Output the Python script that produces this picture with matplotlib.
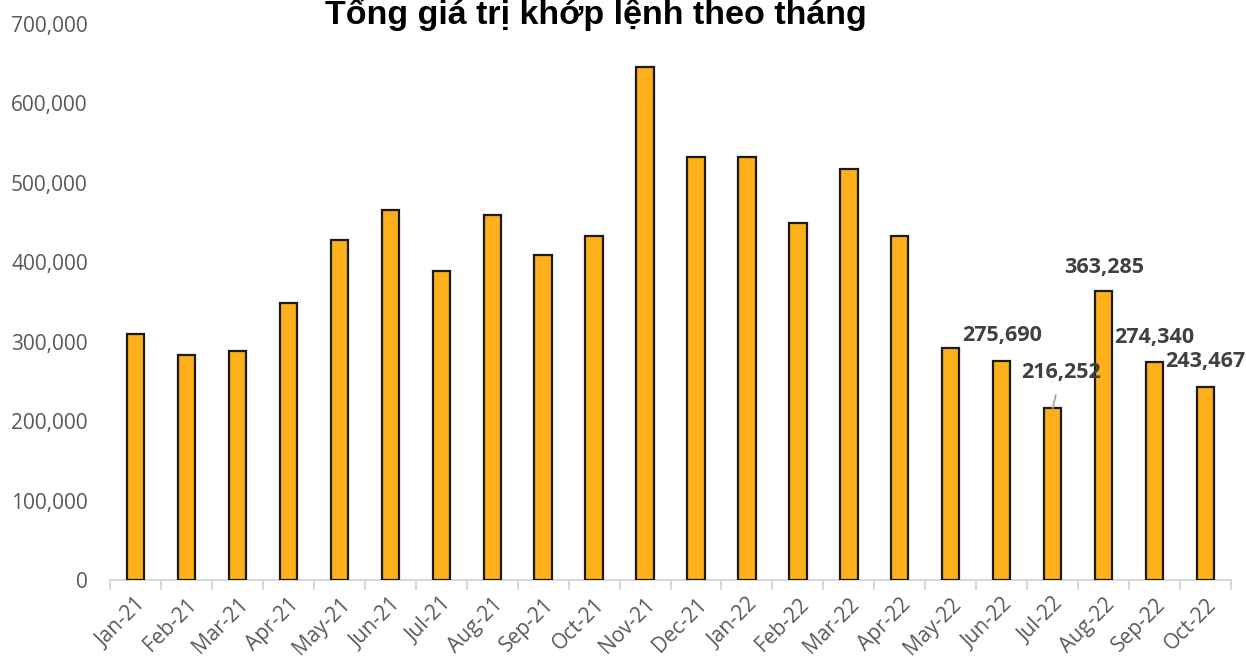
import matplotlib
matplotlib.use("Agg")
import matplotlib.pyplot as plt
from matplotlib.ticker import FuncFormatter

months = ["Jan-21", "Feb-21", "Mar-21", "Apr-21", "May-21", "Jun-21", "Jul-21", "Aug-21",
          "Sep-21", "Oct-21", "Nov-21", "Dec-21", "Jan-22", "Feb-22", "Mar-22", "Apr-22",
          "May-22", "Jun-22", "Jul-22", "Aug-22", "Sep-22", "Oct-22"]
values = [310000, 283000, 288000, 349000, 428000, 466000, 389000, 460000,
          409000, 433000, 646000, 533000, 533000, 450000, 517000, 433000,
          292000, 275690, 216252, 363285, 274340, 243467]
# months that carry a value label, with label offset in points
labelled = {17: (0, 18.5), 19: (0, 17.5), 20: (0, 18), 21: (0, 18)}
leader = {18: (6, 26)}

fig = plt.figure(figsize=(12.46, 6.6), dpi=100)
ax = fig.add_axes([0.0883, 0.1212, 0.8997, 0.8424])

x = list(range(len(months)))
ax.bar(x, values, width=0.34, color="#FDB01A", edgecolor="#1a1a1a", linewidth=1.6, zorder=3)

ax.set_xlim(-0.5, len(months) - 0.5)
ax.set_ylim(0, 700000)
ax.set_yticks(range(0, 700001, 100000))
ax.yaxis.set_major_formatter(FuncFormatter(lambda v, p: f"{int(v):,}"))

for side in ["top", "right", "left"]:
    ax.spines[side].set_visible(False)
ax.spines["bottom"].set_color("#D9D9D9")
ax.spines["bottom"].set_linewidth(1.5)
ax.tick_params(axis="y", length=0, labelsize=15, labelcolor="#595959", pad=16)
for lbl in ax.get_yticklabels():
    lbl.set_family("Open Sans")

# category boundary ticks
ax.set_xticks([i - 0.5 for i in range(len(months) + 1)], minor=True)
ax.tick_params(axis="x", which="minor", length=7, width=1.5, color="#D9D9D9")
ax.set_xticks(x)
ax.tick_params(axis="x", which="major", length=0, pad=10)
ax.set_xticklabels(months, rotation=45, ha="right", rotation_mode="anchor",
                   fontsize=15, color="#595959", family="Open Sans")

for i, off in labelled.items():
    ax.annotate(f"{values[i]:,}", (i, values[i]), xytext=off, textcoords="offset points",
                ha="center", va="center", fontsize=15.5, fontweight="bold",
                color="#404040", family="Open Sans")
for i, off in leader.items():
    ax.annotate(f"{values[i]:,}", (i, values[i]), xytext=off, textcoords="offset points",
                ha="center", va="center", fontsize=15.5, fontweight="bold",
                color="#404040", family="Open Sans",
                arrowprops=dict(arrowstyle="-", color="#A6A6A6", lw=1.3, shrinkA=7, shrinkB=0))

fig.text(0.478, 0.963, "Tổng giá trị khớp lệnh theo tháng", ha="center", va="baseline",
         fontsize=24.5, fontweight="bold", family="Liberation Sans")

fig.savefig("out.png", dpi=100)
